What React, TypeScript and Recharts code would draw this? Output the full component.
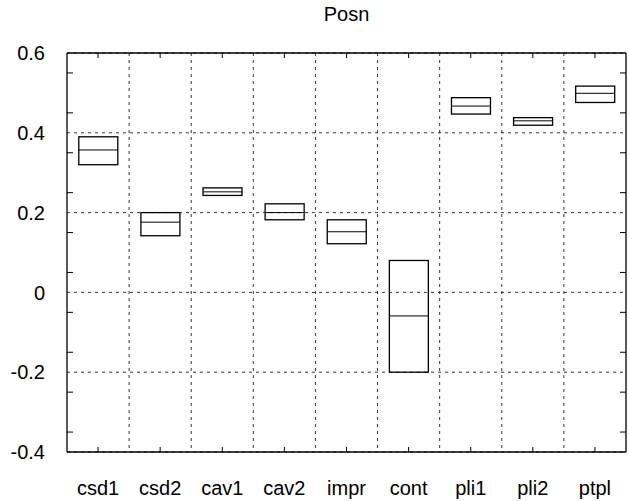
import React from 'react';
import { ComposedChart, Bar, XAxis, YAxis, CartesianGrid } from 'recharts';

// categories and box values
const categories = ['csd1', 'csd2', 'cav1', 'cav2', 'impr', 'cont', 'pli1', 'pli2', 'ptpl'];
const lows = [0.32, 0.142, 0.243, 0.182, 0.122, -0.2, 0.447, 0.419, 0.476];
const highs = [0.39, 0.2, 0.262, 0.222, 0.182, 0.08, 0.488, 0.438, 0.517];
const medians = [0.357, 0.176, 0.252, 0.2, 0.152, -0.059, 0.467, 0.43, 0.499];

const majorTicks = [-0.4, -0.2, 0, 0.2, 0.4, 0.6];
const minorTicks = [
  -0.35, -0.3, -0.25, -0.15, -0.1, -0.05, 0.05, 0.1, 0.15,
  0.25, 0.3, 0.35, 0.45, 0.5, 0.55,
];

const data = categories.map((name, i) => ({
  name,
  range: [lows[i], highs[i]],
  low: lows[i],
  high: highs[i],
  median: medians[i],
}));

const FONT = '"Liberation Sans", Arial, Helvetica, sans-serif';

// box outline plus the median line
const BoxShape = (props: any) => {
  const { x, y, width, height, payload } = props;
  if (x == null || y == null) return null;
  const top = Math.min(y, y + height);
  const h = Math.abs(height);
  const span = payload.high - payload.low;
  const my = span > 0 ? top + (h * (payload.high - payload.median)) / span : top;
  return (
    <g>
      <rect x={x} y={top} width={width} height={h} fill="none" stroke="#000" strokeWidth={1.3} />
      <line x1={x} x2={x + width} y1={my} y2={my} stroke="#000" strokeWidth={1} />
    </g>
  );
};

// tick marks only, no labels
const NoLabel = () => <g />;

const App: React.FC = () => {
  return (
    <div style={{ position: 'absolute', left: 0, top: 0, width: 629, height: 501, background: '#fff' }}>
      <div
        style={{
          position: 'absolute',
          left: 67,
          top: 4,
          width: 559,
          textAlign: 'center',
          fontFamily: FONT,
          fontSize: 20,
          lineHeight: '20px',
          color: '#000',
        }}
      >
        Posn
      </div>
      <ComposedChart
        width={629}
        height={501}
        data={data}
        margin={{ top: 53, right: 3, left: 0, bottom: 0 }}
        barCategoryGap="19%"
      >
        <CartesianGrid
          stroke="#000"
          strokeDasharray="3 4"
          strokeWidth={0.8}
          verticalCoordinatesGenerator={({ offset }: any) =>
            categories.slice(1).map((_, i) => offset.left + ((i + 1) * offset.width) / categories.length)
          }
        />
        <XAxis
          dataKey="name"
          height={49}
          axisLine={{ stroke: '#000', strokeWidth: 1.3 }}
          tickLine={false}
          tickSize={0}
          tickMargin={29}
          tick={{ fill: '#000', fontSize: 20, fontFamily: FONT }}
        />
        <XAxis
          xAxisId="top"
          dataKey="name"
          orientation="top"
          mirror
          tick={<NoLabel />}
          tickSize={5}
          axisLine={{ stroke: '#000', strokeWidth: 1.3 }}
          tickLine={{ stroke: '#000' }}
        />
        <XAxis
          xAxisId="bottomMinor"
          dataKey="name"
          orientation="bottom"
          mirror
          tick={<NoLabel />}
          tickSize={5}
          axisLine={false}
          tickLine={{ stroke: '#000' }}
        />
        <YAxis
          width={67}
          domain={[-0.4, 0.6]}
          ticks={majorTicks}
          allowDataOverflow
          axisLine={{ stroke: '#000', strokeWidth: 1.3 }}
          tickLine={false}
          tickSize={0}
          tickMargin={22}
          tick={{ fill: '#000', fontSize: 20, fontFamily: FONT }}
        />
        <YAxis
          yAxisId="leftMinor"
          orientation="left"
          mirror
          domain={[-0.4, 0.6]}
          ticks={minorTicks}
          allowDataOverflow
          tick={<NoLabel />}
          tickSize={6}
          axisLine={false}
          tickLine={{ stroke: '#000' }}
        />
        <YAxis
          yAxisId="right"
          orientation="right"
          mirror
          domain={[-0.4, 0.6]}
          ticks={minorTicks}
          allowDataOverflow
          tick={<NoLabel />}
          tickSize={6}
          axisLine={{ stroke: '#000', strokeWidth: 1.3 }}
          tickLine={{ stroke: '#000' }}
        />
        <Bar dataKey="range" shape={<BoxShape />} isAnimationActive={false} />
      </ComposedChart>
    </div>
  );
};

export default App;
